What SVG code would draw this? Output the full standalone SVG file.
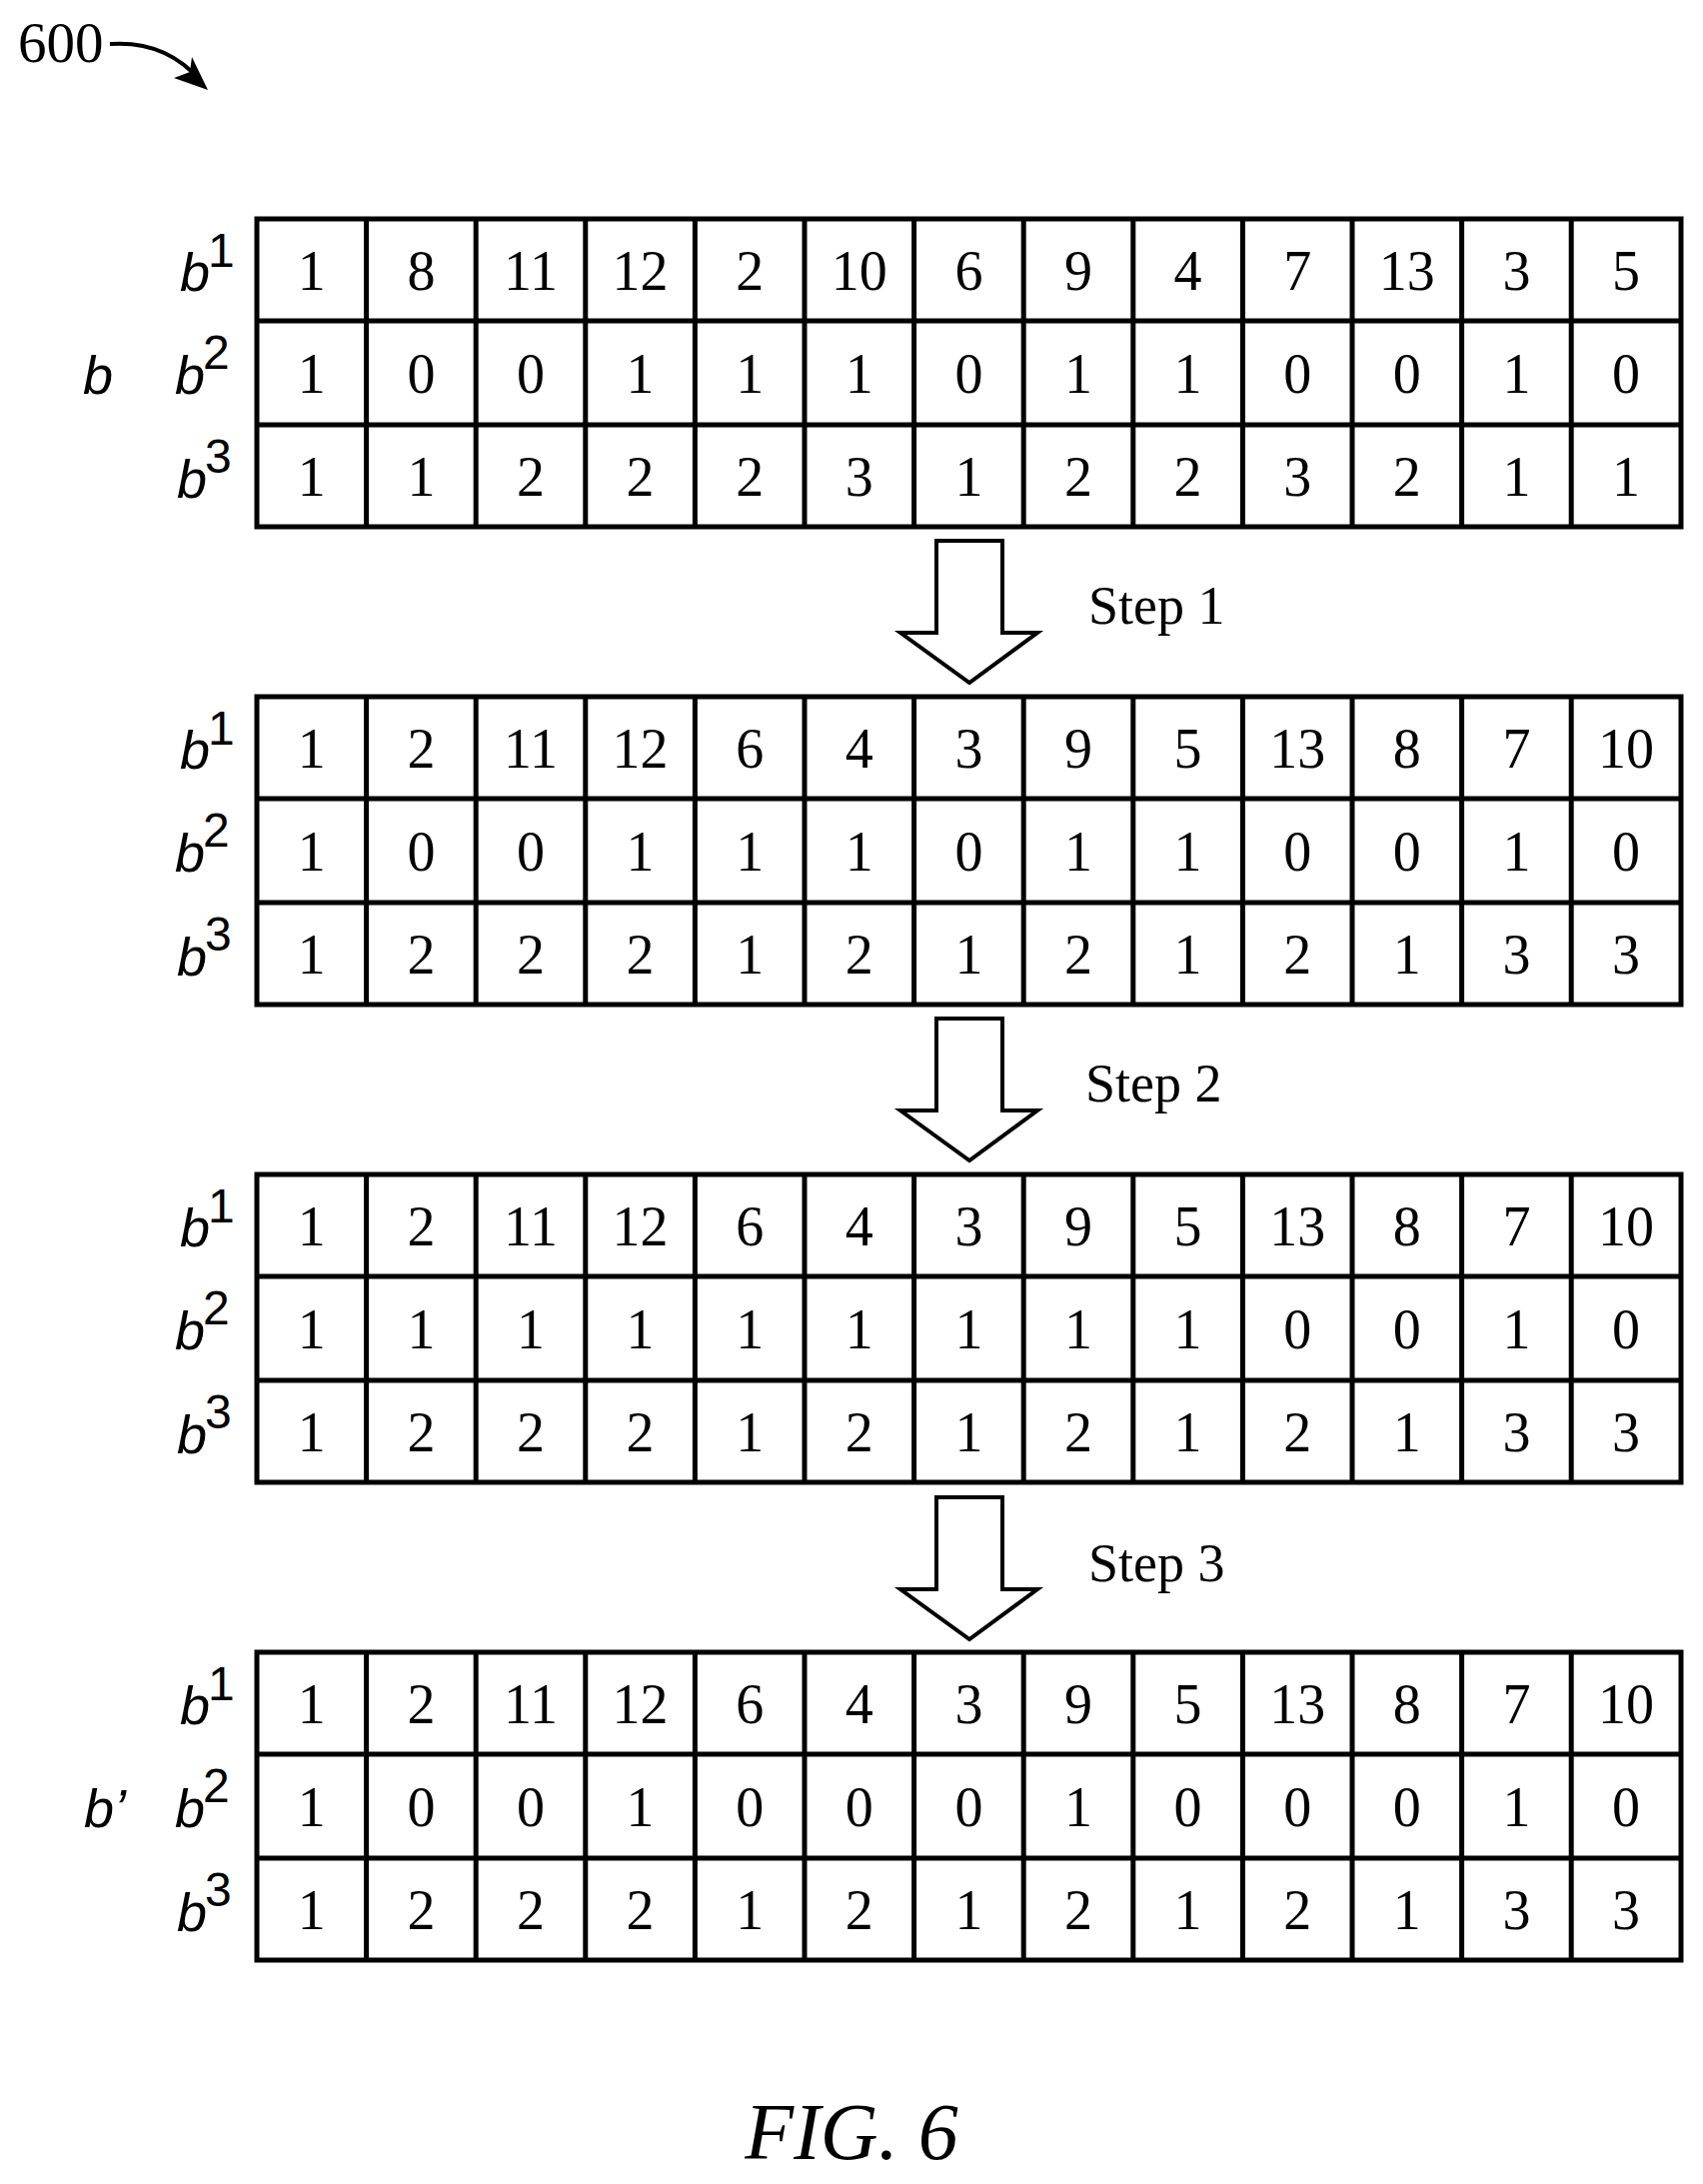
<svg xmlns="http://www.w3.org/2000/svg" width="1704" height="2185" viewBox="0 0 1704 2185">
<style>
.g{fill:none;stroke:#000;stroke-width:5}
.n{font-family:"Liberation Serif",serif;font-size:56px;text-anchor:middle}
.l{font-family:"Liberation Sans",sans-serif;font-style:italic;font-size:54px}
.s{font-family:"Liberation Sans",sans-serif;font-size:48px}
.st{font-family:"Liberation Serif",serif;font-size:54px}
.ar{fill:#fff;stroke:#000;stroke-width:4;stroke-linejoin:miter}
</style>
<defs>
<g id="grid">
<rect class="g" x="257" y="0" width="1425" height="308"/>
<path class="g" d="M257,102H1682M257,206H1682M366.6,0V308M476.2,0V308M585.8,0V308M695.4,0V308M805,0V308M914.6,0V308M1024.2,0V308M1133.8,0V308M1243.4,0V308M1353,0V308M1462.6,0V308M1572.2,0V308"/>
<text class="l" x="180" y="72">b</text><text class="s" x="208" y="48">1</text>
<text class="l" x="175" y="175">b</text><text class="s" x="203" y="150">2</text>
<text class="l" x="177" y="279">b</text><text class="s" x="205" y="254">3</text>
</g>
<path id="arr" class="ar" d="M937,0H1003V92H1038L970,142L901,92H937Z"/>
</defs>
<g id="label600">
<text x="18" y="62" style="font-family:'Liberation Serif',serif;font-size:57px">600</text>
<path d="M110,44 Q165,40 200,80" fill="none" stroke="#000" stroke-width="4"/>
<path d="M208,90 L174,78 L190,72 L192,57 Z" fill="#000"/>
</g>
<g id="table1" transform="translate(0,219)">
<use href="#grid"/>
<g class="n">
<text x="311.8" y="71">1</text><text x="421.4" y="71">8</text><text x="531" y="71">11</text><text x="640.6" y="71">12</text><text x="750.2" y="71">2</text><text x="859.8" y="71">10</text><text x="969.4" y="71">6</text><text x="1079" y="71">9</text><text x="1188.6" y="71">4</text><text x="1298.2" y="71">7</text><text x="1407.8" y="71">13</text><text x="1517.4" y="71">3</text><text x="1627" y="71">5</text>
<text x="311.8" y="174">1</text><text x="421.4" y="174">0</text><text x="531" y="174">0</text><text x="640.6" y="174">1</text><text x="750.2" y="174">1</text><text x="859.8" y="174">1</text><text x="969.4" y="174">0</text><text x="1079" y="174">1</text><text x="1188.6" y="174">1</text><text x="1298.2" y="174">0</text><text x="1407.8" y="174">0</text><text x="1517.4" y="174">1</text><text x="1627" y="174">0</text>
<text x="311.8" y="277">1</text><text x="421.4" y="277">1</text><text x="531" y="277">2</text><text x="640.6" y="277">2</text><text x="750.2" y="277">2</text><text x="859.8" y="277">3</text><text x="969.4" y="277">1</text><text x="1079" y="277">2</text><text x="1188.6" y="277">2</text><text x="1298.2" y="277">3</text><text x="1407.8" y="277">2</text><text x="1517.4" y="277">1</text><text x="1627" y="277">1</text>
</g>
<text class="l" x="83" y="175">b</text>
</g>
<g id="table2" transform="translate(0,697)">
<use href="#grid"/>
<g class="n">
<text x="311.8" y="71">1</text><text x="421.4" y="71">2</text><text x="531" y="71">11</text><text x="640.6" y="71">12</text><text x="750.2" y="71">6</text><text x="859.8" y="71">4</text><text x="969.4" y="71">3</text><text x="1079" y="71">9</text><text x="1188.6" y="71">5</text><text x="1298.2" y="71">13</text><text x="1407.8" y="71">8</text><text x="1517.4" y="71">7</text><text x="1627" y="71">10</text>
<text x="311.8" y="174">1</text><text x="421.4" y="174">0</text><text x="531" y="174">0</text><text x="640.6" y="174">1</text><text x="750.2" y="174">1</text><text x="859.8" y="174">1</text><text x="969.4" y="174">0</text><text x="1079" y="174">1</text><text x="1188.6" y="174">1</text><text x="1298.2" y="174">0</text><text x="1407.8" y="174">0</text><text x="1517.4" y="174">1</text><text x="1627" y="174">0</text>
<text x="311.8" y="277">1</text><text x="421.4" y="277">2</text><text x="531" y="277">2</text><text x="640.6" y="277">2</text><text x="750.2" y="277">1</text><text x="859.8" y="277">2</text><text x="969.4" y="277">1</text><text x="1079" y="277">2</text><text x="1188.6" y="277">1</text><text x="1298.2" y="277">2</text><text x="1407.8" y="277">1</text><text x="1517.4" y="277">3</text><text x="1627" y="277">3</text>
</g>
</g>
<g id="table3" transform="translate(0,1175)">
<use href="#grid"/>
<g class="n">
<text x="311.8" y="71">1</text><text x="421.4" y="71">2</text><text x="531" y="71">11</text><text x="640.6" y="71">12</text><text x="750.2" y="71">6</text><text x="859.8" y="71">4</text><text x="969.4" y="71">3</text><text x="1079" y="71">9</text><text x="1188.6" y="71">5</text><text x="1298.2" y="71">13</text><text x="1407.8" y="71">8</text><text x="1517.4" y="71">7</text><text x="1627" y="71">10</text>
<text x="311.8" y="174">1</text><text x="421.4" y="174">1</text><text x="531" y="174">1</text><text x="640.6" y="174">1</text><text x="750.2" y="174">1</text><text x="859.8" y="174">1</text><text x="969.4" y="174">1</text><text x="1079" y="174">1</text><text x="1188.6" y="174">1</text><text x="1298.2" y="174">0</text><text x="1407.8" y="174">0</text><text x="1517.4" y="174">1</text><text x="1627" y="174">0</text>
<text x="311.8" y="277">1</text><text x="421.4" y="277">2</text><text x="531" y="277">2</text><text x="640.6" y="277">2</text><text x="750.2" y="277">1</text><text x="859.8" y="277">2</text><text x="969.4" y="277">1</text><text x="1079" y="277">2</text><text x="1188.6" y="277">1</text><text x="1298.2" y="277">2</text><text x="1407.8" y="277">1</text><text x="1517.4" y="277">3</text><text x="1627" y="277">3</text>
</g>
</g>
<g id="table4" transform="translate(0,1653)">
<use href="#grid"/>
<g class="n">
<text x="311.8" y="71">1</text><text x="421.4" y="71">2</text><text x="531" y="71">11</text><text x="640.6" y="71">12</text><text x="750.2" y="71">6</text><text x="859.8" y="71">4</text><text x="969.4" y="71">3</text><text x="1079" y="71">9</text><text x="1188.6" y="71">5</text><text x="1298.2" y="71">13</text><text x="1407.8" y="71">8</text><text x="1517.4" y="71">7</text><text x="1627" y="71">10</text>
<text x="311.8" y="174">1</text><text x="421.4" y="174">0</text><text x="531" y="174">0</text><text x="640.6" y="174">1</text><text x="750.2" y="174">0</text><text x="859.8" y="174">0</text><text x="969.4" y="174">0</text><text x="1079" y="174">1</text><text x="1188.6" y="174">0</text><text x="1298.2" y="174">0</text><text x="1407.8" y="174">0</text><text x="1517.4" y="174">1</text><text x="1627" y="174">0</text>
<text x="311.8" y="277">1</text><text x="421.4" y="277">2</text><text x="531" y="277">2</text><text x="640.6" y="277">2</text><text x="750.2" y="277">1</text><text x="859.8" y="277">2</text><text x="969.4" y="277">1</text><text x="1079" y="277">2</text><text x="1188.6" y="277">1</text><text x="1298.2" y="277">2</text><text x="1407.8" y="277">1</text><text x="1517.4" y="277">3</text><text x="1627" y="277">3</text>
</g>
<text class="l" x="84" y="175">b’</text>
</g>
<g id="connectors">
<use href="#arr" y="541"/>
<use href="#arr" y="1019"/>
<use href="#arr" y="1498"/>
<text class="st" x="1089" y="624">Step 1</text>
<text class="st" x="1086" y="1102">Step 2</text>
<text class="st" x="1089" y="1582">Step 3</text>
</g>
<text x="852" y="2160" text-anchor="middle" style="font-family:'Liberation Serif',serif;font-style:italic;font-size:80px">FIG. 6</text>
</svg>
